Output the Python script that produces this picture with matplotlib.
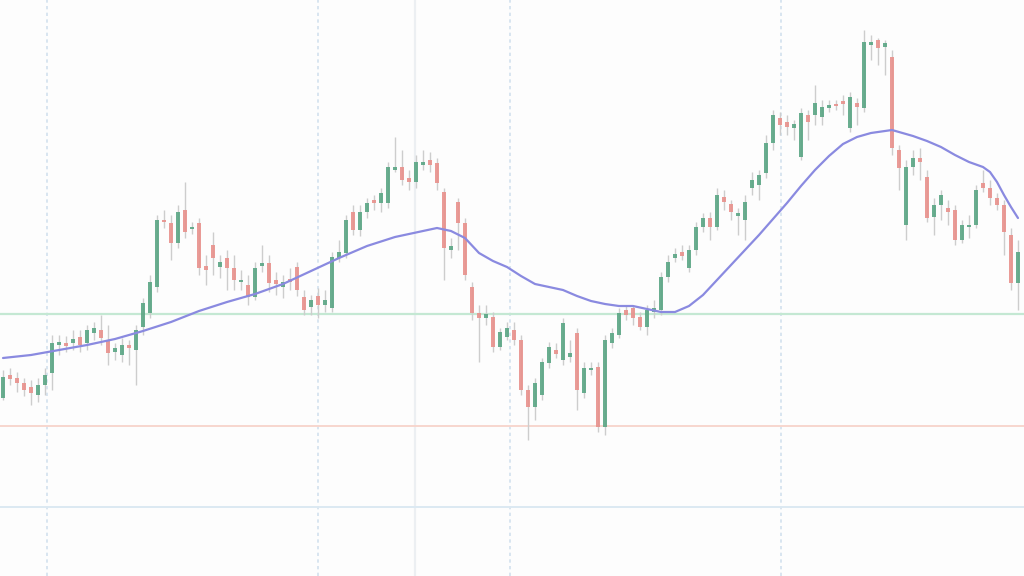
import numpy as np
import matplotlib
matplotlib.use("Agg")
import matplotlib.pyplot as plt

# ---------------------------------------------------------------
# candle data (one entry per bar)
# ---------------------------------------------------------------
opens = [202, 225, 222, 217, 213, 205, 215, 227, 255, 257,
         257, 263, 257, 267, 270, 260, 248, 245, 255, 250,
         273, 287, 313, 380, 377, 357, 390, 371, 377, 334,
         355, 333, 342, 332, 318, 315, 303, 334, 337, 320,
         313, 321, 333, 303, 293, 304, 295, 292, 342, 347,
         388, 370, 388, 400, 397, 397, 430, 433, 422, 418,
         435, 440, 437, 408, 350, 398, 377, 313, 287, 282,
         283, 253, 263, 270, 260, 210, 193, 205, 237, 250,
         240, 243, 267, 207, 230, 233, 173, 257, 265, 290,
         292, 283, 273, 288, 290, 323, 342, 348, 332, 350,
         373, 382, 373, 403, 396, 384, 380, 412, 415, 427,
         457, 482, 478, 472, 443, 485, 485, 483, 492, 496,
         499, 472, 497, 492, 555, 560, 553, 543, 450, 375,
         433, 442, 423, 383, 395, 392, 390, 360, 373, 375,
         417, 412, 402, 395, 365, 317]
highs = [230, 232, 228, 222, 220, 222, 232, 265, 265, 264,
         270, 270, 275, 278, 285, 275, 257, 262, 260, 275,
         302, 325, 385, 390, 385, 395, 418, 378, 382, 345,
         368, 345, 350, 345, 330, 325, 338, 355, 345, 328,
         325, 332, 338, 310, 305, 312, 310, 348, 360, 385,
         395, 395, 402, 405, 412, 438, 463, 450, 430, 445,
         450, 448, 442, 412, 362, 402, 382, 318, 295, 295,
         288, 272, 278, 278, 265, 215, 222, 242, 258, 257,
         282, 260, 272, 238, 238, 238, 265, 272, 292, 295,
         295, 288, 295, 300, 328, 345, 352, 355, 355, 378,
         387, 388, 412, 410, 400, 392, 405, 428, 430, 465,
         490, 488, 485, 480, 492, 490, 515, 500, 500, 500,
         505, 508, 502, 570, 565, 562, 560, 550, 455, 440,
         450, 452, 430, 402, 410, 400, 395, 380, 385, 415,
         430, 420, 407, 400, 372, 360]
lows = [200, 215, 208, 204, 195, 198, 205, 210, 245, 248,
        250, 248, 250, 260, 255, 235, 240, 238, 235, 215,
        265, 282, 308, 372, 340, 352, 362, 366, 325, 315,
        325, 322, 310, 310, 310, 295, 300, 328, 308, 305,
        302, 310, 304, 285, 285, 282, 288, 288, 338, 342,
        365, 364, 382, 390, 388, 392, 428, 415, 410, 412,
        430, 428, 410, 320, 342, 350, 320, 280, 238, 275,
        248, 250, 260, 255, 205, 160, 180, 200, 232, 242,
        235, 238, 190, 202, 225, 168, 165, 252, 262, 280,
        275, 270, 265, 282, 285, 318, 338, 340, 328, 345,
        368, 360, 370, 390, 380, 365, 360, 405, 400, 422,
        450, 465, 465, 460, 440, 460, 475, 475, 488, 490,
        485, 468, 475, 488, 540, 535, 525, 445, 410, 360,
        425, 420, 378, 365, 380, 375, 355, 357, 362, 372,
        408, 395, 390, 345, 310, 290]
closes = [223, 221, 217, 210, 207, 215, 225, 257, 258, 254,
          261, 255, 270, 272, 262, 247, 252, 255, 252, 270,
          297, 318, 380, 378, 357, 388, 368, 373, 332, 330,
          342, 338, 332, 320, 320, 303, 332, 337, 317, 316,
          318, 318, 310, 290, 300, 295, 300, 343, 348, 380,
          370, 388, 397, 397, 407, 433, 433, 420, 418, 438,
          438, 435, 417, 352, 354, 377, 325, 287, 282, 286,
          253, 268, 272, 260, 210, 193, 217, 238, 253, 246,
          277, 247, 210, 232, 232, 173, 260, 267, 287, 285,
          282, 273, 290, 292, 323, 338, 346, 344, 350, 373,
          382, 373, 405, 398, 388, 387, 398, 420, 425, 457,
          485, 475, 473, 476, 487, 478, 497, 493, 495, 494,
          496, 503, 493, 558, 558, 552, 557, 452, 432, 433,
          442, 438, 382, 395, 405, 388, 360, 375, 375, 410,
          412, 402, 395, 368, 317, 348]

# moving average, sampled at these bar numbers
ma_idx = [0, 4, 8, 12, 16, 20, 24, 28, 32, 36,
          40, 44, 48, 52, 56, 60, 62, 64, 66, 68,
          70, 72, 74, 76, 78, 80, 82, 84, 86, 88,
          90, 92, 94, 96, 98, 100, 102, 104, 106, 108,
          110, 112, 114, 116, 118, 120, 122, 124, 126, 127,
          128, 130, 132, 134, 136, 138, 140, 141, 142, 143,
          144, 145]
ma_val = [242, 245, 250, 255, 261, 269, 278, 289, 298, 306,
          316, 329, 342, 354, 363, 369, 372, 369, 362, 347,
          339, 333, 324, 316, 313, 310, 304, 299, 296, 294,
          294, 291, 288, 288, 294, 305, 320, 335, 350, 365,
          381, 397, 414, 430, 444, 456, 463, 467, 469, 470,
          468, 464, 459, 453, 445, 438, 433, 428, 418, 405,
          393, 382]

# reference levels and session markers
level_green = 286
level_red = 174
level_blue = 93
session_marks = [6.3, 45, 72.4, 111.1]
week_mark = 58.9

opens = np.array(opens)
closes = np.array(closes)
highs = np.array(highs)
lows = np.array(lows)
n = len(opens)
idx = np.arange(n)

up_col = '#5aa684'
down_col = '#e8918c'

fig = plt.figure(figsize=(10.24, 5.76), dpi=100)
fig.patch.set_facecolor('#fdfdfd')
ax = fig.add_axes([0, 0, 1, 1])
ax.set_facecolor('#fdfdfd')

# grid / levels
for m in session_marks:
    ax.axvline(m, color='#d2e1ee', lw=1.2, ls=(0, (2, 2)), zorder=0)
ax.axvline(week_mark, color='#eceff2', lw=1.6, zorder=0)
ax.axhline(level_green, color='#c4e8d3', lw=1.6, zorder=1)
ax.axhline(level_red, color='#f7d6ce', lw=1.4, zorder=1)
ax.axhline(level_blue, color='#dce9f2', lw=1.4, zorder=1)

# candles
up = closes >= opens
cols = np.where(up, up_col, down_col)
ax.vlines(idx, lows, highs, color='#cdcdcd', lw=1, zorder=2)
body_lo = np.minimum(opens, closes)
body_h = np.maximum(np.abs(closes - opens), 2)
ax.bar(idx, body_h, bottom=body_lo, width=0.6, color=cols,
       edgecolor='none', alpha=0.9, zorder=3)

# moving average
ax.plot(ma_idx, ma_val, color='#8a8ae0', lw=1.6, zorder=4,
        solid_joinstyle='round', solid_capstyle='round')

ax.set_xlim(-0.43, 145.86)
ax.set_ylim(24, 600)
ax.axis('off')

fig.savefig('out.png', dpi=100, facecolor=fig.get_facecolor())
